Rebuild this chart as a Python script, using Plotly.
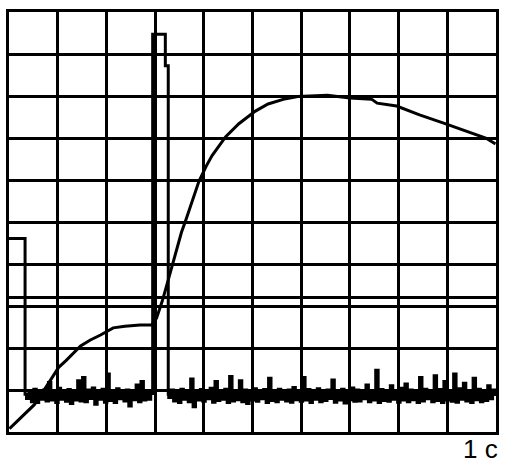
import numpy as np
import plotly.graph_objects as go

# scope screen: 10 x 10 divisions, time base 1 s / div
# channel 1 - slow response curve
curve_t = [0.01, 0.25, 0.52, 0.76, 0.90, 1.02, 1.17, 1.31, 1.47, 1.67, 1.88, 2.14,
           2.38, 2.69, 2.93, 3.03, 3.15, 3.26, 3.40, 3.54, 3.64, 3.76, 3.90, 4.05,
           4.17, 4.45, 4.72, 5.06, 5.32, 5.63, 5.93, 6.54, 7.00, 7.45, 7.56, 7.96,
           8.43, 8.91, 9.38, 9.79, 9.99]
curve_v = [0.08, 0.36, 0.65, 1.07, 1.33, 1.54, 1.70, 1.87, 2.05, 2.19, 2.31, 2.48,
           2.52, 2.55, 2.55, 2.71, 3.13, 3.58, 4.17, 4.75, 5.08, 5.50, 5.97, 6.33,
           6.58, 7.03, 7.34, 7.64, 7.81, 7.92, 7.99, 8.02, 7.95, 7.92, 7.83, 7.76,
           7.55, 7.36, 7.17, 7.00, 6.86]

# channel 2 - pulse with noisy baseline
start_t = [0.0, 0.31, 0.33]
start_v = [4.61, 4.61, 0.90]
noise_left = [0.80, 0.98, 0.72, 1.02, 0.70, 0.95, 0.78, 1.00, 0.74, 1.18, 0.76, 0.96, 0.70,
              1.04, 0.78, 0.99, 0.73, 1.01, 0.68, 0.97, 0.76, 1.22, 0.74, 1.30, 0.72, 1.00,
              0.80, 1.05, 0.66, 0.96, 0.78, 1.02, 0.71, 1.38, 0.75, 0.97, 0.70, 1.03, 0.79,
              0.98, 0.74, 1.00, 0.62, 0.96, 0.77, 1.12, 0.72, 1.20, 0.76, 0.99, 0.78, 0.95]
pulse_t = [2.95, 2.95, 3.21, 3.21, 3.27, 3.27]
pulse_v = [0.88, 9.47, 9.47, 8.72, 8.72, 0.90]
noise_right = [0.82, 1.00, 0.74, 0.96, 0.70, 1.02, 0.78, 0.97, 0.72, 1.26, 0.60, 0.99, 0.76, 1.01, 0.73, 0.98, 0.79, 1.04, 0.71, 1.20,
               0.75, 0.97, 0.78, 1.02, 0.70, 1.32, 0.74, 0.99, 0.77, 1.22, 0.72, 1.00, 0.68, 0.98, 0.76, 1.03, 0.73, 0.96, 0.79, 1.01,
               0.70, 1.28, 0.75, 0.99, 0.72, 1.02, 0.78, 0.97, 0.74, 1.00, 0.71, 1.06, 0.77, 0.98, 0.73, 1.30, 0.76, 1.01, 0.70, 0.97,
               0.78, 1.03, 0.72, 0.99, 0.75, 1.00, 0.80, 1.24, 0.71, 0.98, 0.76, 1.02, 0.69, 0.97, 0.77, 1.05, 0.73, 1.00, 0.74, 0.96,
               0.79, 1.12, 0.72, 0.99, 0.76, 1.47, 0.70, 1.01, 0.75, 0.98, 0.73, 1.10, 0.78, 0.97, 0.71, 1.04, 0.76, 1.14, 0.72, 1.00,
               0.77, 0.98, 0.70, 1.30, 0.74, 1.02, 0.79, 0.99, 0.72, 1.34, 0.75, 1.01, 0.70, 1.20, 0.76, 0.98, 0.73, 1.38, 0.71, 1.03,
               0.78, 1.16, 0.74, 0.99, 0.70, 1.28, 0.77, 1.02, 0.72, 0.97, 0.75, 1.10, 0.79, 1.00, 0.86]
sample_step = 0.05
left_start = 0.36
right_start = 3.28

# channel 3 - flat level
level_t = [0, 10]
level_v = [3.2, 3.2]

timebase = "1 с"

t_left = left_start + sample_step * np.arange(len(noise_left))
t_right = right_start + sample_step * np.arange(len(noise_right))
ch2_t = list(start_t) + list(t_left) + pulse_t + list(t_right)
ch2_v = start_v + noise_left + pulse_v + noise_right

fig = go.Figure()
fig.add_trace(go.Scatter(x=level_t, y=level_v, mode='lines',
                         line=dict(color='black', width=3)))
fig.add_trace(go.Scatter(x=curve_t, y=curve_v, mode='lines',
                         line=dict(color='black', width=3)))
# digitised channel -> sample-and-hold steps
fig.add_trace(go.Scatter(x=ch2_t, y=ch2_v, mode='lines',
                         line=dict(color='black', width=3, shape='hv')))

axis = dict(range=[0, 10], dtick=1, showgrid=True, gridcolor='black', gridwidth=3,
            showticklabels=False, zeroline=False, ticks='', showline=True,
            linecolor='black', linewidth=3, mirror=True, fixedrange=True)
fig.update_xaxes(**axis)
fig.update_yaxes(**axis)

fig.add_annotation(text=timebase, xref='paper', yref='paper', x=1.008, y=-0.04,
                   xanchor='right', yanchor='middle', showarrow=False,
                   font=dict(family='Liberation Sans, Arial', size=26, color='black'))

fig.update_layout(width=508, height=474, showlegend=False,
                  plot_bgcolor='white', paper_bgcolor='white',
                  margin=dict(l=9, r=9, t=9, b=42))

# page body has a default 8px margin; drop it so the screen sits at the corner
fig.write_html("out.html", post_script="document.body.style.margin='0';",
               config={'displayModeBar': False})
